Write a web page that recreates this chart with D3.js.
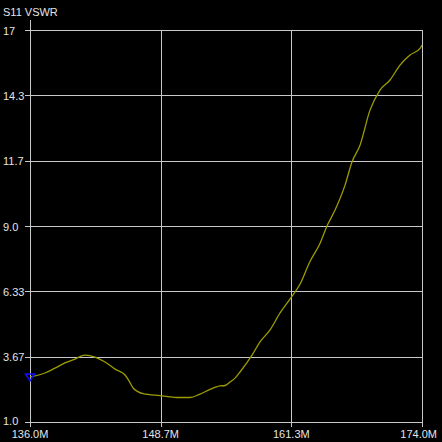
<!DOCTYPE html>
<html><head><meta charset="utf-8">
<script src="https://cdn.jsdelivr.net/npm/d3@7"></script>
<style>html,body{margin:0;padding:0;background:#000;}svg{display:block;}</style>
</head><body>
<script>
const title = "S11 VSWR";
const freqs = [136.0,137.45,138.42,139.39,140.36,141.33,142.30,143.27,144.24,145.21,145.6,145.99,146.96,148.60,150.54,151.51,152.48,153.45,154.42,154.9,155.39,155.9,156.36,157.52,158.30,159.27,160.24,161.20,162.17,163.14,164.11,164.79,165.57,166.54,167.22,168.00,168.96,169.93,170.90,171.87,172.84,173.81,174.0];
const vswr  = [2.84,3.0,3.20,3.41,3.57,3.73,3.65,3.45,3.16,2.92,2.68,2.39,2.16,2.08,2.0,2.0,2.14,2.33,2.47,2.49,2.63,2.80,3.04,3.73,4.27,4.76,5.45,6.02,6.62,7.55,8.29,9.0,9.65,10.67,11.62,12.31,13.73,14.55,14.96,15.57,15.98,16.25,16.39];
const xTickValues = [136.0, 148.6667, 161.3333, 174.0];
const xTickLabels = ["136.0M","148.7M","161.3M","174.0M"];
const yTickValues = [1.0, 3.6667, 6.3333, 9.0, 11.6667, 14.3333, 17.0];
const yTickLabels = ["1.0","3.67","6.33","9.0","11.7","14.3","17"];
const markerFreq = 136.0, markerVswr = 2.84;

const W = 442, H = 442;
const svg = d3.select("body").append("svg").attr("width", W).attr("height", H)
  .style("background", "#000");
const x = d3.scaleLinear().domain([136, 174]).range([30, 422]);
const y = d3.scaleLinear().domain([1, 17]).range([422, 30]);
const gridColor = "#c8c8c8", textColor = "#e4e4e4";
const font = "'Liberation Sans', Arial, sans-serif";

const g = svg.append("g").attr("shape-rendering", "crispEdges");
g.selectAll("line.h").data(yTickValues).join("line")
  .attr("x1", 25).attr("x2", x(174) + 0.5)
  .attr("y1", d => Math.round(y(d)) + 0.5).attr("y2", d => Math.round(y(d)) + 0.5)
  .attr("stroke", gridColor).attr("stroke-width", 1);
g.selectAll("line.v").data(xTickValues).join("line")
  .attr("x1", d => Math.round(x(d)) + 0.5).attr("x2", d => Math.round(x(d)) + 0.5)
  .attr("y1", (d, i) => i === 0 ? 20 : y(17)).attr("y2", y(1) + 5)
  .attr("stroke", gridColor).attr("stroke-width", 1);

svg.append("text").attr("x", 3).attr("y", 15.5).text(title)
  .attr("fill", textColor).attr("font-family", font).attr("font-size", 11);

svg.selectAll("text.yl").data(yTickValues).join("text")
  .attr("x", 3).attr("y", (d, i) => y(d) + (i === 0 ? 3 : 4.5))
  .text((d, i) => yTickLabels[i])
  .attr("fill", textColor).attr("font-family", font).attr("font-size", 11);

svg.selectAll("text.xl").data(xTickValues).join("text")
  .attr("x", d => x(d)).attr("y", 437.5)
  .attr("text-anchor", (d, i) => i === xTickValues.length - 1 ? "end" : "middle")
  .attr("dx", (d, i) => i === xTickValues.length - 1 ? 15 : 0)
  .text((d, i) => xTickLabels[i])
  .attr("fill", textColor).attr("font-family", font).attr("font-size", 11);

const pts = freqs.map((f, i) => [f, vswr[i]]);
svg.append("path").datum(pts)
  .attr("d", d3.line().x(d => x(d[0])).y(d => y(d[1])).curve(d3.curveMonotoneX))
  .attr("fill", "none").attr("stroke", "#9c9c00").attr("stroke-width", 1.3);

const mx = x(markerFreq), my = y(markerVswr);
svg.append("path")
  .attr("d", `M${mx - 4.5},${my - 3} L${mx + 4.5},${my - 3} L${mx},${my + 4} Z`)
  .attr("fill", "none").attr("stroke", "#1010ff").attr("stroke-width", 1.5);
</script>
</body></html>
